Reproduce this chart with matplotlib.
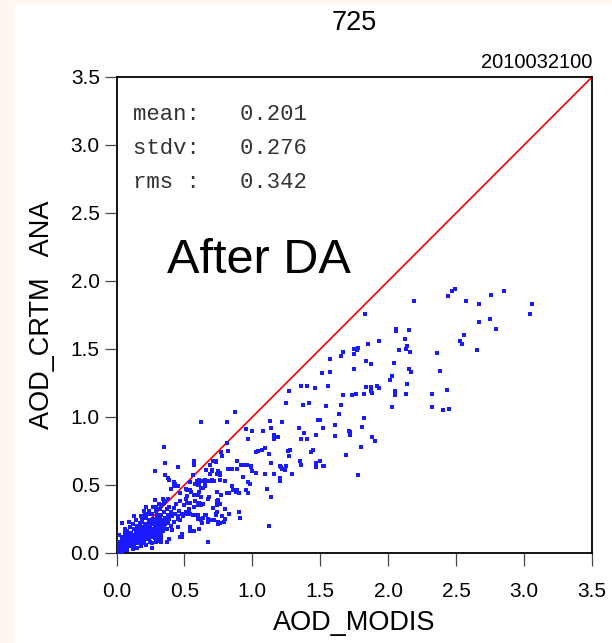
# AOD scatter: CRTM analysis vs MODIS, after DA
import numpy as np
import matplotlib
matplotlib.use("Agg")
import matplotlib.pyplot as plt
from matplotlib.patches import Rectangle

PNG_FILE = "out.png"

TITLE     = "725"
DATE_STR  = "2010032100"
STATS     = ["mean:   0.201", "stdv:   0.276", "rms :   0.342"]
TICKS     = [0.0, 0.5, 1.0, 1.5, 2.0, 2.5, 3.0, 3.5]
TICK_LBL  = ["0.0", "0.5", "1.0", "1.5", "2.0", "2.5", "3.0", "3.5"]

# ── Data ────────────────────────────────────────────────────────────────────
# high-AOD, sparse points
hi_x = [1.00,1.08,1.13,1.14,1.22,1.16,1.16,1.19,1.25,1.27,
        1.36,1.40,1.46,1.37,1.42,1.54,1.51,1.57,1.57,1.56,
        1.65,1.67,1.75,1.75,1.77,1.78,1.83,1.85,1.93,1.75,
        1.84,1.87,1.67,1.73,1.76,1.65,1.64,1.50,1.48,1.52,
        1.61,1.61,1.71,1.72,1.72,1.81,1.82,1.84,1.82,1.87,
        1.87,1.88,1.92,1.93,1.88,1.90,1.80,1.69,1.78,1.47,
        1.38,1.36,1.40,1.34,1.43,1.45,1.35,1.36,1.47,1.47,
        1.50,1.52,1.53,1.29,1.26,1.28,1.27,1.20,1.21,1.22,
        1.24,1.25,1.14,1.12,1.07,1.09,1.03,1.04,0.99,1.00,
        1.03,1.09,1.16,1.20,1.20,1.11,1.14,1.12,2.03,2.01,
        2.03,2.04,2.05,2.05,2.06,2.06,2.08,2.12,2.13,2.14,
        2.15,2.16,2.15,2.17,2.14,2.13,2.19,2.32,2.32,2.36,
        2.38,2.40,2.45,2.43,2.44,2.47,2.49,2.53,2.54,2.56,
        2.57,2.65,2.67,2.67,2.75,2.76,2.79,2.85,3.04,3.06]
hi_y = [0.90,0.90,0.97,0.92,0.96,0.87,0.84,0.85,1.10,1.19,
        1.23,1.23,1.21,1.09,1.10,1.08,1.32,1.43,1.33,1.23,
        1.45,1.48,1.46,1.50,1.49,1.51,1.76,1.54,1.56,1.35,
        1.41,1.39,1.16,1.16,1.17,1.09,1.02,0.98,0.98,0.92,
        0.94,0.86,0.90,0.89,0.87,0.93,0.99,1.22,1.17,1.22,
        1.19,1.18,1.23,1.21,0.85,0.82,0.78,0.72,0.57,0.87,
        0.88,0.84,0.84,0.92,0.74,0.76,0.68,0.65,0.66,0.63,
        0.68,0.64,0.64,0.58,0.75,0.76,0.71,0.64,0.63,0.62,
        0.61,0.64,0.66,0.73,0.76,0.77,0.74,0.75,0.63,0.60,
        0.59,0.58,0.58,0.55,0.53,0.47,0.41,0.20,1.30,1.27,
        1.07,1.40,1.19,1.16,1.65,1.63,1.49,1.57,1.50,1.52,
        1.64,1.48,1.35,1.33,1.24,1.17,1.85,1.17,1.07,1.47,
        1.34,1.05,1.06,1.20,1.89,1.93,1.94,1.56,1.54,1.60,
        1.85,1.49,1.83,1.70,1.72,1.90,1.65,1.93,1.76,1.83]

# mid-range points
mid_x = [0.87,0.62,0.81,0.35,0.36,0.28,0.45,0.36,0.38,0.39,
         0.57,0.57,0.43,0.28,0.47,0.67,0.81,0.82,0.77,0.71,
         0.66,0.70,0.69,0.75,0.76,0.73,0.78,0.95,0.97,0.89,
         0.92,0.94,0.96,0.82,0.85,0.89,0.69,0.76,0.61,0.62,
         0.64,0.65,0.65,0.58,0.70,0.72,0.76,0.80,0.93,0.97,
         0.56,0.42,0.99,0.74,0.70,0.73,0.67,0.70,0.63,0.61,
         0.60,0.62,0.98,0.85,0.87,0.88,0.89,0.86,0.88,0.90,
         0.81,0.83,0.95,0.97,0.77,0.74,0.75,0.74,0.76,0.74,
         0.71,0.74,0.73,0.73,0.80,0.83,0.90,0.91,0.78,0.72,
         0.70,0.69,0.67,0.67,0.75,0.76,0.79,0.80,0.75,0.61,
         0.57,0.54,0.54,0.62,0.60,0.64,0.63,0.62,0.65,0.66,
         0.59,0.60,0.56,0.54,0.53,0.52,0.51,0.57,0.60,0.62,
         0.64,0.58,0.61,0.54,0.52,0.67,0.68,0.57,0.60,0.62,
         0.54,0.55,0.52,0.61,0.60,0.64,0.65,0.58,0.59]
mid_y = [1.04,0.96,0.96,0.78,0.66,0.60,0.63,0.57,0.55,0.54,
         0.68,0.65,0.51,0.39,0.12,0.08,0.81,0.75,0.74,0.68,
         0.61,0.60,0.58,0.60,0.57,0.67,0.71,0.91,0.84,0.68,
         0.65,0.65,0.65,0.62,0.62,0.62,0.65,0.59,0.54,0.53,
         0.53,0.54,0.52,0.51,0.54,0.53,0.54,0.53,0.56,0.52,
         0.57,0.51,0.64,0.58,0.61,0.68,0.53,0.53,0.53,0.50,
         0.51,0.48,0.51,0.49,0.46,0.46,0.46,0.46,0.45,0.44,
         0.44,0.44,0.46,0.44,0.43,0.45,0.39,0.38,0.36,0.35,
         0.33,0.30,0.29,0.28,0.32,0.29,0.30,0.26,0.27,0.24,
         0.24,0.24,0.25,0.23,0.23,0.22,0.23,0.25,0.21,0.18,
         0.16,0.19,0.16,0.24,0.25,0.26,0.22,0.25,0.28,0.28,
         0.28,0.28,0.28,0.29,0.31,0.29,0.30,0.34,0.35,0.35,
         0.36,0.38,0.37,0.37,0.37,0.40,0.41,0.43,0.43,0.41,
         0.46,0.45,0.46,0.45,0.50,0.48,0.49,0.51,0.53]

# dense low-AOD core
core_x = [0.42,0.42,0.40,0.45,0.47,0.51,0.53,0.52,0.54,0.29,
          0.32,0.38,0.35,0.22,0.20,0.24,0.19,0.13,0.09,0.04,
          0.06,0.10,0.06,0.02,0.02,0.01,0.03,0.06,0.08,0.12,
          0.13,0.16,0.20,0.23,0.26,0.29,0.31,0.33,0.33,0.37,
          0.39,0.41,0.45,0.48,0.48,0.45,0.47,0.49,0.52,0.53,
          0.11,0.14,0.17,0.21,0.24,0.27,0.30,
          0.01,0.02,0.02,0.03,0.03,0.04,0.04,0.05,0.05,0.05,
          0.06,0.06,0.06,0.07,0.07,0.07,0.08,0.08,0.08,0.09,
          0.09,0.09,0.10,0.10,0.10,0.10,0.11,0.11,0.11,0.12,
          0.12,0.12,0.12,0.13,0.13,0.13,0.14,0.14,0.14,0.14,
          0.15,0.15,0.15,0.15,0.16,0.16,0.16,0.16,0.17,0.17,
          0.17,0.17,0.18,0.18,0.18,0.18,0.18,0.19,0.19,0.19,
          0.19,0.20,0.20,0.20,0.20,0.20,0.21,0.21,0.21,0.22,
          0.22,0.22,0.22,0.23,0.23,0.23,0.24,0.24,0.24,0.24,
          0.25,0.25,0.25,0.26,0.26,0.26,0.26,0.27,0.27,0.27,
          0.28,0.28,0.28,0.28,0.29,0.29,0.29,0.30,0.30,0.30,
          0.30,0.31,0.31,0.31,0.32,0.32,0.32,0.33,0.33,0.33,
          0.34,0.34,0.34,0.35,0.35,0.35,0.36,0.36,0.37,0.37,
          0.37,0.38,0.38,0.39,0.39,0.40,0.40,0.41,0.42,0.42,
          0.43,0.44,0.45,0.46,0.47,0.48,0.50,0.51,
          0.03,0.04,0.05,0.06,0.07,0.08,0.09,0.10,0.11,0.12,
          0.13,0.14,0.15,0.17,0.18,0.19,0.21,0.22,0.24,0.26,
          0.27,0.29,0.31,0.33,0.34,0.36,
          0.12,0.15,0.18,0.22,0.25,0.30,0.33,0.26]
core_y = [0.52,0.49,0.47,0.49,0.44,0.47,0.46,0.42,0.52,0.34,
          0.32,0.40,0.37,0.34,0.31,0.29,0.26,0.27,0.23,0.22,
          0.18,0.19,0.13,0.13,0.08,0.06,0.04,0.05,0.03,0.04,
          0.06,0.08,0.07,0.10,0.07,0.08,0.12,0.14,0.08,0.08,
          0.10,0.17,0.19,0.12,0.14,0.27,0.24,0.27,0.29,0.32,
          0.15,0.17,0.19,0.21,0.24,0.25,0.28,
          0.02,0.01,0.03,0.02,0.05,0.03,0.01,0.04,0.06,0.02,
          0.03,0.07,0.05,0.04,0.06,0.09,0.05,0.07,0.02,0.06,
          0.08,0.10,0.05,0.07,0.09,0.12,0.06,0.08,0.10,0.07,
          0.09,0.11,0.13,0.08,0.10,0.12,0.09,0.11,0.13,0.15,
          0.07,0.10,0.12,0.14,0.09,0.11,0.13,0.16,0.10,0.12,
          0.14,0.18,0.08,0.11,0.13,0.15,0.17,0.10,0.12,0.14,
          0.17,0.09,0.11,0.13,0.16,0.19,0.12,0.14,0.18,0.10,
          0.13,0.15,0.20,0.12,0.14,0.17,0.11,0.15,0.18,0.22,
          0.13,0.16,0.20,0.12,0.15,0.18,0.23,0.14,0.17,0.21,
          0.11,0.16,0.19,0.25,0.14,0.18,0.22,0.13,0.17,0.20,
          0.26,0.16,0.19,0.23,0.15,0.21,0.25,0.18,0.22,0.28,
          0.16,0.20,0.24,0.19,0.23,0.30,0.21,0.26,0.18,0.24,
          0.32,0.22,0.28,0.25,0.34,0.20,0.30,0.27,0.23,0.33,
          0.29,0.36,0.25,0.31,0.38,0.29,0.35,0.40,
          0.08,0.10,0.12,0.15,0.12,0.16,0.14,0.19,0.15,0.21,
          0.18,0.24,0.20,0.22,0.27,0.23,0.29,0.26,0.31,0.29,
          0.34,0.31,0.36,0.35,0.40,0.38,
          0.03,0.04,0.05,0.06,0.08,0.09,0.11,0.04]

modis = np.array(hi_x + mid_x + core_x)
ana   = np.array(hi_y + mid_y + core_y)

# ── Plot ────────────────────────────────────────────────────────────────────
fig = plt.figure(figsize=(6.12, 6.43), dpi=100)
fig.patches.append(Rectangle((0, 0), 14/612, 1, transform=fig.transFigure,
                             color='#fef6f1', zorder=0))
fig.patches.append(Rectangle((0, 1 - 3/643), 1, 3/643, transform=fig.transFigure,
                             color='#fef6f1', zorder=0))

ax = fig.add_axes([116.5/612, 1 - 553/643, 475.5/612, 476/643])

ax.plot([0, 3.5], [0, 3.5], color='red', linewidth=1.2, zorder=2)
ax.scatter(modis, ana, s=5.5, marker='s', color='#1a1aff', linewidths=0, zorder=3)

ax.set_xlim(0, 3.5)
ax.set_ylim(0, 3.5)
ax.set_xticks(TICKS)
ax.set_xticklabels(TICK_LBL, fontsize=15, family='Liberation Sans')
ax.set_yticks(TICKS)
ax.set_yticklabels(TICK_LBL, fontsize=15, family='Liberation Sans')
ax.tick_params(axis='x', direction='out', length=9, width=0.9, color='#444444', pad=12)
ax.tick_params(axis='y', direction='out', length=9, width=0.9, color='#444444', pad=3)
for sp in ax.spines.values():
    sp.set_linewidth(1.3)

ax.set_xlabel("AOD_MODIS", fontsize=19.5, family='Liberation Sans', labelpad=6)
ax.set_ylabel("AOD_CRTM   ANA", fontsize=19.5, family='Liberation Sans', labelpad=11)

fig.text(354/612, 1 - 23/643, TITLE, ha='center', va='center',
         fontsize=19.5, family='Liberation Sans')
ax.text(1.0, 1.0 + 9/476, DATE_STR, transform=ax.transAxes, ha='right',
        va='baseline', fontsize=14.5, family='Liberation Sans')

for i, s in enumerate(STATS):
    ax.text(0.12, 3.184 - i*0.25, s, ha='left', va='baseline',
            fontsize=16, family='Liberation Mono', color='#333333')

ax.text(0.372, 2.059, "After DA", ha='left', va='baseline',
        fontsize=35, family='Liberation Sans')

plt.savefig(PNG_FILE, dpi=100)
